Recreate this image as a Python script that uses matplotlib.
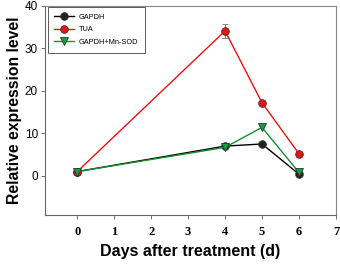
import matplotlib
matplotlib.use("Agg")
import matplotlib.pyplot as plt

# ---- data ----
days = [0, 4, 5, 6]
gapdh = [1.0, 7.0, 7.5, 0.4]
tua = [1.0, 34.1, 17.2, 5.2]
tua_err = [0, 1.6, 0, 0]
gapdh_mnsod = [1.0, 6.7, 11.4, 0.8]
x_ticks = [0, 1, 2, 3, 4, 5, 6, 7]
y_ticks = [0, 10, 20, 30, 40]

plt.rcParams["font.family"] = ["Liberation Sans", "DejaVu Sans"]

fig = plt.figure(figsize=(3.4, 2.67), dpi=100)
ax = fig.add_axes([0.132, 0.195, 0.856, 0.783])

edge = "#333333"
h1, = ax.plot(days, gapdh, color="black", lw=1.0, marker="o", ms=5.5,
              mfc="#222222", mec=edge, mew=0.6, label="GAPDH", zorder=3)
h2 = ax.errorbar(days, tua, yerr=tua_err, color="#ee1111", lw=1.0, marker="o", ms=5.5,
                 mfc="#ee1111", mec=edge, mew=0.6, ecolor="#777777", elinewidth=0.8,
                 capsize=2.5, capthick=0.8, label="TUA", zorder=4)
h3, = ax.plot(days, gapdh_mnsod, color="#109030", lw=1.0, marker="v", ms=5.5,
              mfc="#10a040", mec=edge, mew=0.6, label="GAPDH+Mn-SOD", zorder=5)

ax.set_xlim(-0.875, 7)
ax.set_ylim(-9.2, 40)
ax.set_xticks(x_ticks)
ax.set_yticks(y_ticks)
ax.set_xticklabels([str(t) for t in x_ticks], family="Liberation Serif",
                   fontweight="bold", fontsize=9)
ax.tick_params(axis="y", labelsize=8.5, length=3, width=0.6, color="#555555", pad=2)
ax.tick_params(axis="x", length=3, width=0.6, color="#555555", pad=5)
for s in ax.spines.values():
    s.set_color("#888888")
    s.set_linewidth(0.8)
ax.spines["left"].set_color("#666666")
ax.spines["bottom"].set_color("#666666")

ax.set_xlabel("Days after treatment (d)", fontsize=11.5, fontweight="bold", labelpad=4)
ax.set_ylabel("Relative expression level", fontsize=11.3, fontweight="bold", labelpad=2)

leg = ax.legend([h1, h2[0], h3], ["GAPDH", "TUA", "GAPDH+Mn-SOD"],
                loc="upper left", fontsize=5.3, frameon=True, fancybox=False,
                edgecolor="#333333", borderpad=0.9, handlelength=2.6,
                handletextpad=0.7, labelspacing=0.75, borderaxespad=0,
                bbox_to_anchor=(0.01, 0.995))
leg.get_frame().set_linewidth(0.7)

fig.savefig("out.png", dpi=100)
